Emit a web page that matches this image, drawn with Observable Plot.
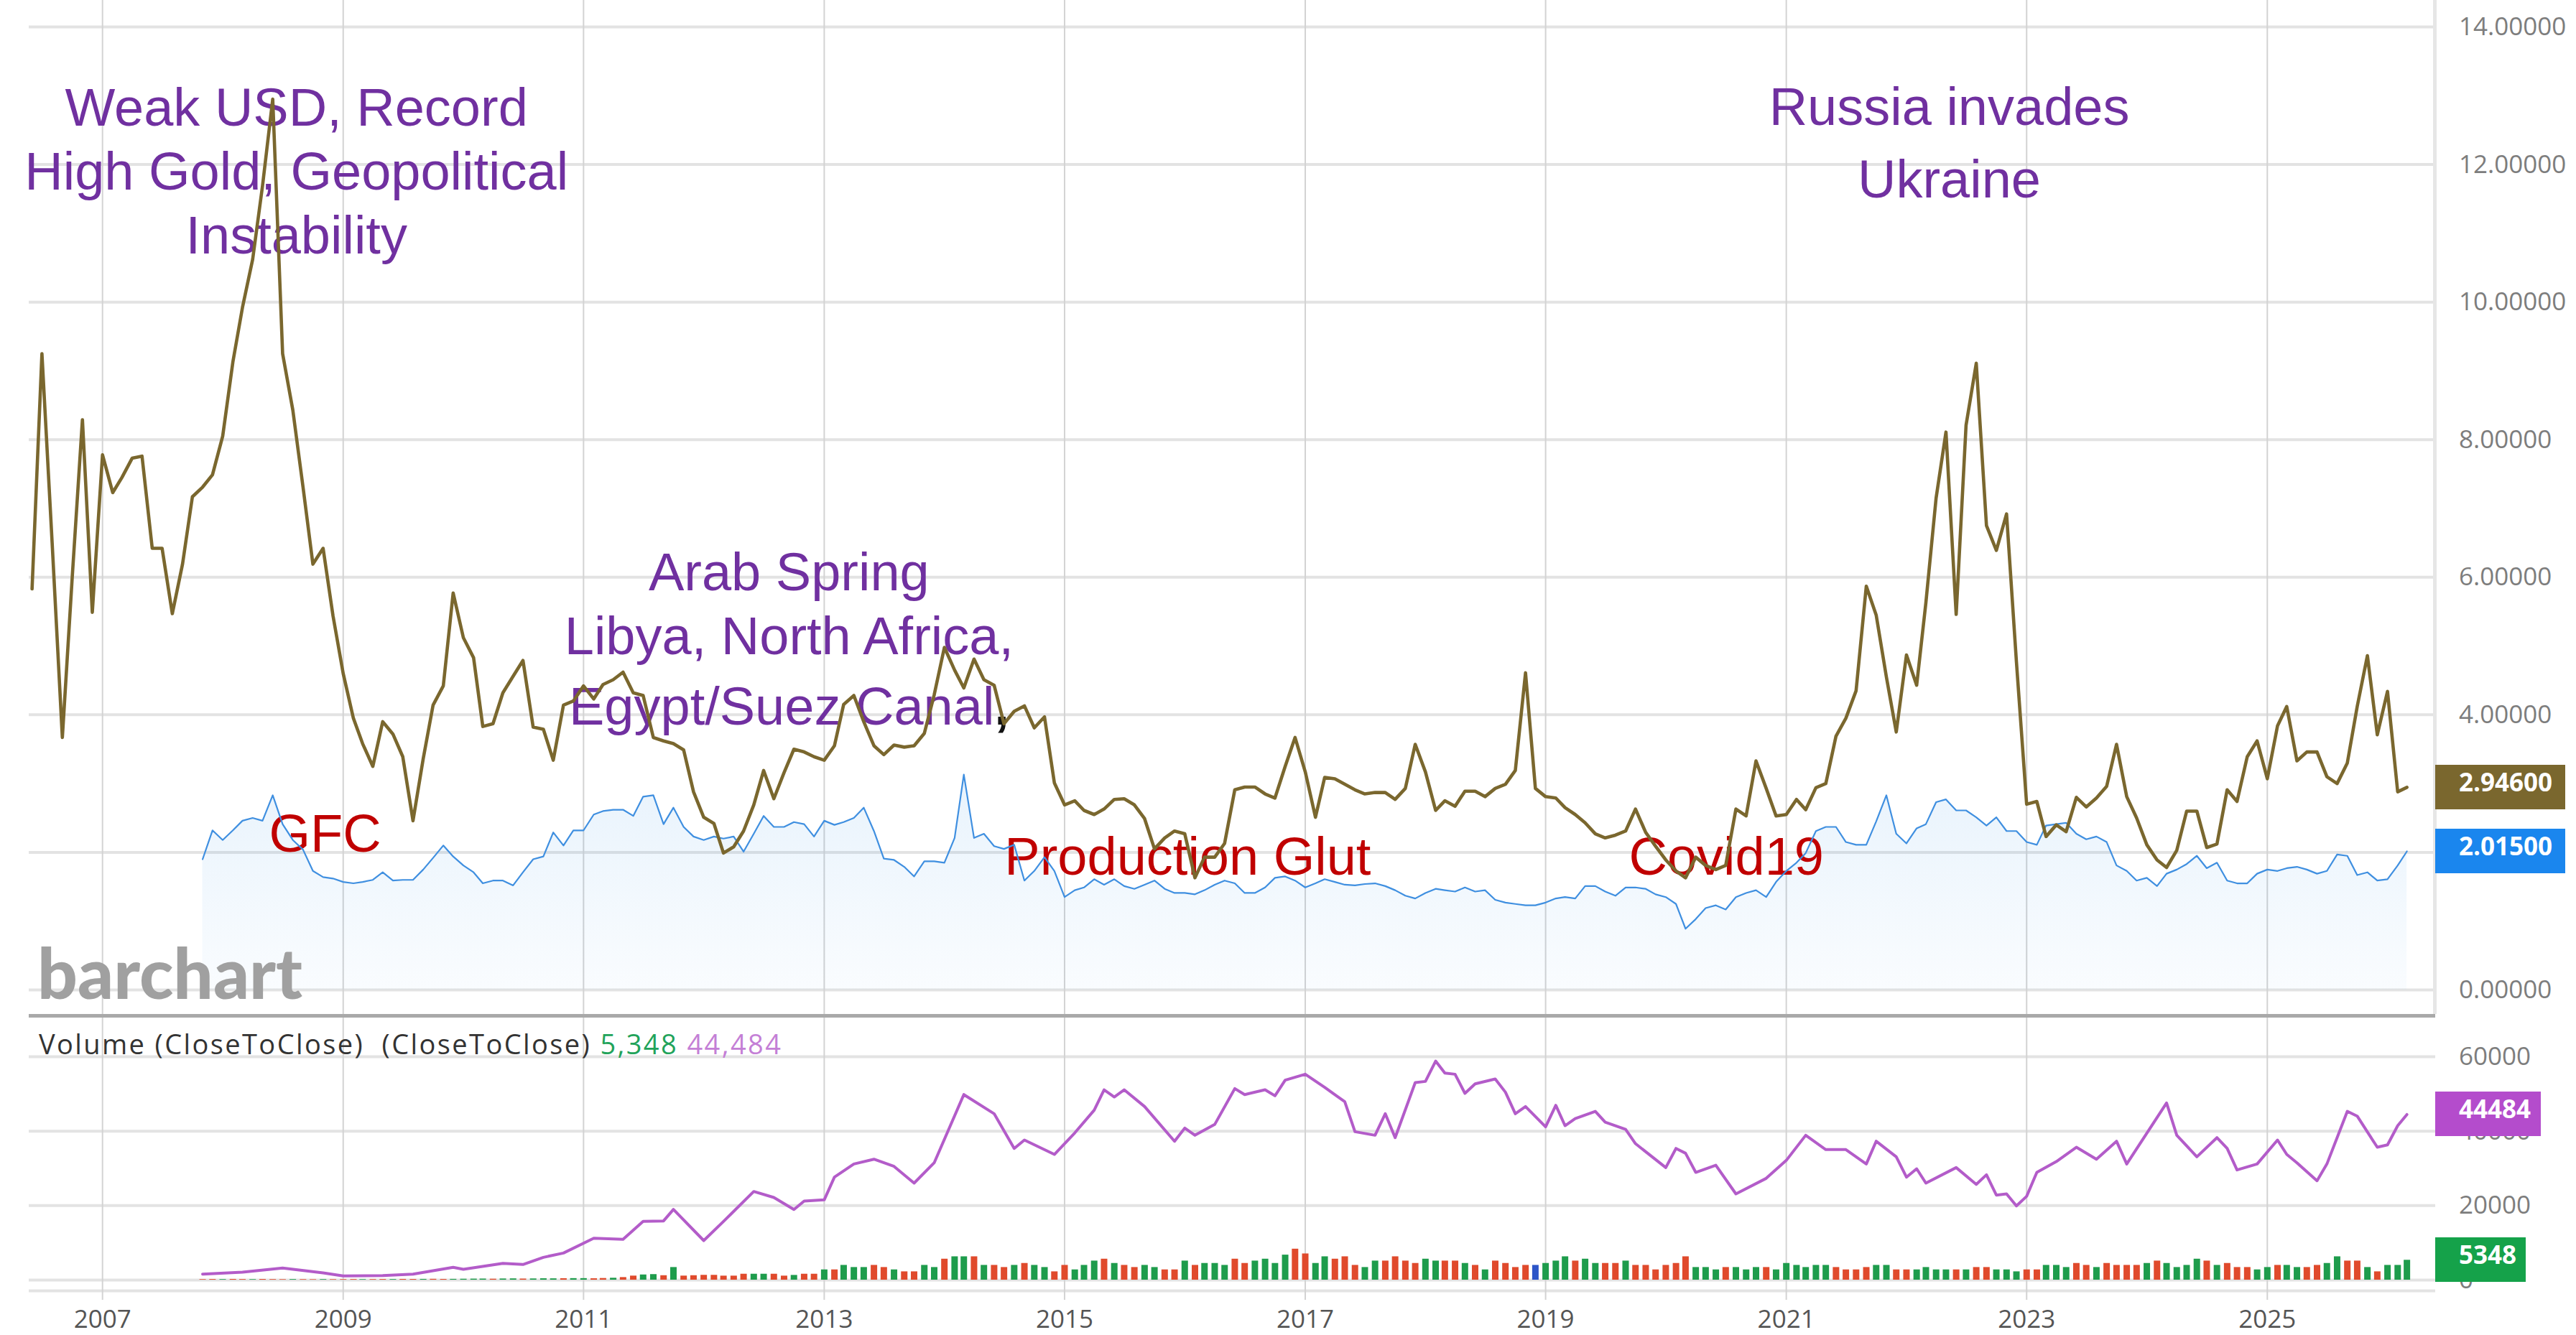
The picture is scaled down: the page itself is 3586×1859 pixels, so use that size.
<!DOCTYPE html>
<html><head><meta charset="utf-8">
<script src="https://cdn.jsdelivr.net/npm/d3@7"></script>
<script src="https://cdn.jsdelivr.net/npm/@observablehq/plot@0.6"></script>
<style>
body{margin:0;background:#fff;}
#wrap{position:relative;width:3586px;height:1859px;overflow:hidden;background:#fff;}
#wrap svg{position:absolute;left:0;}
.badge{position:absolute;left:3390px;height:62px;line-height:62px;color:#fff;font:700 35px "Open Sans",sans-serif;padding-left:33px;box-sizing:border-box;}
.ylab{position:absolute;left:3423px;height:50px;line-height:50px;color:#7d7d7d;font:35px "Open Sans",sans-serif;white-space:pre;}
</style></head>
<body><div id="wrap"></div>
<script>
// ---------- data ----------
const spreadStart = "2006-06";
const spread = [
  5.83, 9.25, 6.5, 3.67, 6.0, 8.29, 5.49,
  7.78, 7.23, 7.45, 7.73, 7.76, 6.42, 6.42, 5.47, 6.19, 7.17, 7.31, 7.49,
  8.05, 9.13, 9.92, 10.62, 11.69, 12.95, 9.25, 8.43, 7.31, 6.19, 6.42, 5.44,
  4.60, 3.95, 3.58, 3.25, 3.90, 3.72, 3.39, 2.46, 3.36, 4.14, 4.42, 5.77,
  5.12, 4.83, 3.83, 3.87, 4.32, 4.56, 4.79, 3.82, 3.79, 3.34, 4.14, 4.20,
  4.42, 4.23, 4.44, 4.51, 4.62, 4.32, 4.28, 3.67, 3.62, 3.58, 3.49, 2.88,
  2.51, 2.42, 1.99, 2.08, 2.31, 2.69, 3.19, 2.78, 3.16, 3.50, 3.46, 3.39,
  3.34, 3.55, 4.15, 4.28, 3.90, 3.55, 3.42, 3.56, 3.53, 3.55, 3.73, 4.29,
  4.98, 4.65, 4.39, 4.81, 4.51, 4.43, 3.87, 4.05, 4.13, 3.81, 3.97, 3.01,
  2.69, 2.75, 2.61, 2.55, 2.63, 2.77, 2.78, 2.69, 2.49, 2.05, 2.21, 2.31,
  2.27, 1.63, 1.93, 1.93, 2.13, 2.91, 2.95, 2.95, 2.85, 2.79, 3.25, 3.67,
  3.17, 2.51, 3.09, 3.07, 2.99, 2.91, 2.85, 2.87, 2.87, 2.77, 2.93, 3.57,
  3.17, 2.61, 2.75, 2.67, 2.89, 2.89, 2.81, 2.93, 2.99, 3.19, 4.61, 2.93,
  2.81, 2.79, 2.65, 2.55, 2.43, 2.27, 2.21, 2.25, 2.31, 2.63, 2.29, 2.09,
  1.89, 1.73, 1.63, 1.93, 1.81, 1.75, 1.81, 2.63, 2.53, 3.33, 2.93, 2.53,
  2.55, 2.77, 2.62, 2.94, 3.00, 3.69, 3.95, 4.35, 5.87, 5.45, 4.55, 3.75,
  4.87, 4.43, 5.63, 7.15, 8.11, 5.46, 8.21, 9.11, 6.75, 6.39, 6.92, 4.77,
  2.70, 2.74, 2.23, 2.40, 2.30, 2.80, 2.66, 2.79, 2.96, 3.57, 2.81, 2.50,
  2.11, 1.89, 1.78, 2.03, 2.60, 2.60, 2.07, 2.12, 2.91, 2.74, 3.39, 3.62,
  3.07, 3.84, 4.12, 3.33, 3.46, 3.46, 3.10, 3.00, 3.30, 4.12, 4.86, 3.71,
  4.34, 2.88, 2.946
];

const ratioStart = "2007-11";
const ratio = [
  1.90, 2.32,
  2.18, 2.32, 2.46, 2.50, 2.46, 2.83, 2.41, 2.18, 2.04, 1.73, 1.64, 1.62,
  1.57, 1.55, 1.57, 1.60, 1.71, 1.59, 1.60, 1.60, 1.75, 1.92, 2.10, 1.94,
  1.81, 1.71, 1.55, 1.59, 1.59, 1.52, 1.71, 1.90, 1.94, 2.29, 2.10, 2.32,
  2.32, 2.55, 2.60, 2.62, 2.62, 2.53, 2.81, 2.83, 2.41, 2.65, 2.37, 2.23,
  2.18, 2.23, 2.20, 2.23, 2.01, 2.27, 2.53, 2.37, 2.37, 2.44, 2.41, 2.23,
  2.46, 2.40, 2.44, 2.50, 2.65, 2.31, 1.91, 1.89, 1.79, 1.65, 1.87, 1.87,
  1.85, 2.21, 3.13, 2.21, 2.27, 2.09, 2.05, 2.11, 1.59, 1.73, 1.93, 1.73,
  1.35, 1.45, 1.49, 1.61, 1.53, 1.61, 1.51, 1.47, 1.53, 1.59, 1.47, 1.41,
  1.41, 1.39, 1.45, 1.53, 1.59, 1.55, 1.41, 1.41, 1.49, 1.63, 1.65, 1.59,
  1.49, 1.55, 1.61, 1.57, 1.53, 1.52, 1.54, 1.55, 1.51, 1.45, 1.37, 1.33,
  1.41, 1.47, 1.45, 1.43, 1.49, 1.43, 1.45, 1.31, 1.27, 1.25, 1.23, 1.23,
  1.27, 1.33, 1.35, 1.33, 1.51, 1.51, 1.43, 1.37, 1.49, 1.49, 1.47, 1.39,
  1.35, 1.25, 0.89, 1.03, 1.19, 1.23, 1.17, 1.35, 1.41, 1.45, 1.35, 1.57,
  1.73, 1.85, 1.99, 2.31, 2.37, 2.37, 2.15, 2.11, 2.11, 2.45, 2.83, 2.27,
  2.13, 2.35, 2.41, 2.73, 2.77, 2.61, 2.61, 2.51, 2.39, 2.51, 2.31, 2.31,
  2.15, 2.11, 2.39, 2.41, 2.43, 2.27, 2.19, 2.23, 2.15, 1.81, 1.73, 1.59,
  1.63, 1.51, 1.69, 1.75, 1.83, 1.95, 1.77, 1.85, 1.59, 1.55, 1.55, 1.69,
  1.75, 1.73, 1.77, 1.79, 1.75, 1.69, 1.73, 1.97, 1.95, 1.67, 1.71, 1.59,
  1.61, 1.81, 2.015
];

const volStart = "2007-11";
const volume = [
  150,180,160,200,170,150,190,160,140,170,150,130,160,140,150,170,150,160,180,170,200,190,210,230,200,220,
  250,280,300,260,320,350,300,330,380,360,400,420,
  420,380,450,520,700,1100,1400,1500,1200,3400,1100,1200,1300,1300,
  1090,1090,1600,1600,1600,1600,1090,1280,1600,1600,
  2760,2760,3970,3400,3400,3970,3400,2760,2240,2240,3970,3400,
  5640,6280,6280,6280,3970,3970,3400,3970,4490,3970,3400,2240,
  3970,2760,3970,5130,5640,4490,3970,3400,3970,3400,2760,2760,
  5130,3970,4490,4490,3970,5640,4490,5130,5640,4490,6730,8330,
  7050,4490,6280,5640,6280,3970,3400,5130,5130,6280,5130,4490,
  5640,5130,5130,5130,4490,3970,2760,5130,4490,3400,3970,3970,
  4490,5130,6280,5130,5640,4490,4490,4490,5130,3970,3970,2760,
  3970,4490,6280,3400,3400,2760,3400,3400,2760,3400,3400,2760,
  4490,3970,3400,3970,3970,3400,2760,2760,3400,3970,3970,2760,
  2760,2760,3400,2760,2760,2760,2760,3400,3400,2760,2760,2240,
  2760,2760,3970,3970,3400,4490,3970,3400,4490,3970,3970,3970,
  4490,5130,4490,3400,3970,5640,5130,3970,4490,3400,3400,2760,
  3400,3970,3970,3400,3400,3970,4490,6280,5130,5130,3400,2240,
  3970,3970,5348
];
const volDirection = [
  "rrgrrgrrrgrrgrrrgrrgrrgrrg", "gggrggrgggrg", "grrgrrggrgrrrr", "rrrggrrgrr",
  "grgggrrgrrgg", "rggrgrrgrggr", "rgggrgrrggrr", "grgggrrggggr",
  "rggrrrggrrrr", "ggrrgrgrrrrb", "gggrggrrgrrr", "rrrgggrgggrg",
  "gggggrrrrggr", "rggggrgrrggg", "rrgggrrgrrrr", "grggggrgrrrg",
  "grggrrggrrgr", "ggg"
].join("");

// 12-month volume average: months counted from Jan 2007
const maMonth = [10,14,18,22,24,28,31,35,36,40,42,44,46,49,52,54,56,57,60,62,65,67,69,70,72,73,75,77,79,81,83,86,89,91,92,95,97,99,100,101,102,104,107,108,109,111,113,114,116,117,118,120,122,124,125,127,128,129,131,132,133,134,135,136,137,139,140,141,142,144,145,146,147,149,150,152,153,156,157,158,159,161,163,166,168,170,172,174,176,177,179,180,181,182,185,187,188,189,190,191,192,193,195,197,199,201,202,206,207,209,211,212,213,215,217,218,219,221,222,224,225,227,228,229,230];
const maValue = [1608,2122,3215,1929,1093,1222,1608,3408,2894,4501,4180,6109,7266,11253,10931,15754,15882,18969,10610,15754,23791,22184,18969,21219,21541,27649,31186,32472,30543,26042,31507,49833,44689,35365,37616,33758,39545,45653,51119,49190,51119,46618,37294,40831,38902,41795,51440,49833,51119,49511,53691,55298,51762,47904,39866,38902,44689,38259,53048,53369,58835,55620,55298,50154,52726,54012,50476,44689,46618,41152,46939,41474,43403,45332,42438,40509,36651,30221,35365,34079,28935,30864,23148,27328,32150,38902,35044,35044,31186,37294,33115,27649,29900,26042,30221,25720,28292,22827,23148,19933,22505,28935,31829,35687,32472,37294,31186,47582,38902,33115,38259,35365,29578,31186,37616,33758,31507,26685,31186,45332,44046,35687,36330,41474,44484];

const priceTicks = [0, 2, 4, 6, 8, 10, 12, 14];
const volTicks = [0, 20000, 40000, 60000];
const yearTicks = [2007, 2009, 2011, 2013, 2015, 2017, 2019, 2021, 2023, 2025];

const noteText = ["Weak USD, Record\nHigh Gold, Geopolitical\nInstability", "Arab Spring\nLibya, North Africa,", "Russia invades\nUkraine", "GFC", "Production Glut", "Covid19"];
const noteDate = ["2008-08-12", "2012-09-16", "2022-05-11", "2008-11-07", "2016-01-10", "2020-07-03"];
const noteValue = [11.93, 5.646, 12.39, 2.252, 1.918, 1.928];
const noteColor = ["#7030a0", "#7030a0", "#7030a0", "#c00000", "#c00000", "#c00000"];
const noteLineHeight = [1.2, 1.216, 1.365, 1, 1, 1];
const suezText = "Egypt/Suez Canal";
const suezDate = "2014-06-02";
const suezValue = 4.11;

// ---------- build rows ----------
const monthRows = (start, vals) => {
  const [y, m] = start.split("-").map(Number);
  return vals.map((v, i) => ({date: new Date(Date.UTC(y, m - 1 + i, 1)), v}));
};
const spreadData = monthRows(spreadStart, spread);
const ratioData = monthRows(ratioStart, ratio);
const barColors = {g: "#1e9c4c", r: "#e04a2c", b: "#2c55c8"};
const volData = monthRows(volStart, volume).map((d, i) => ({...d, color: barColors[volDirection[i]]}));
const maData = maMonth.map((m, i) => ({date: new Date(Date.UTC(2007, m, 1)), v: maValue[i]}));
const notes = noteText.map((t, i) => ({text: t, date: new Date(noteDate[i] + "T00:00:00Z"), value: noteValue[i], color: noteColor[i], lh: noteLineHeight[i]}));
const yearDates = yearTicks.map(y => new Date(Date.UTC(y, 0, 1)));
const xDomain = [new Date(Date.UTC(2006, 4, 23)), new Date(Date.UTC(2026, 4, 27))];

const W = 3586, H1 = 1418, H2 = 441;
const annFont = "Liberation Sans, Arial, sans-serif";
const axisFont = "Open Sans, sans-serif";

const noteMarks = notes.map(n => Plot.text([n], {
  x: "date", y: "value", text: "text", fill: n.color, fontSize: 74,
  fontFamily: annFont, lineHeight: n.lh
}));

const topPlot = Plot.plot({
  width: W, height: H1,
  marginLeft: 40, marginRight: 196, marginTop: 37, marginBottom: 40,
  x: {type: "utc", domain: xDomain, axis: null},
  y: {domain: [0, 14], axis: null},
  style: {background: "transparent", overflow: "visible"},
  marks: [
    Plot.ruleY(priceTicks, {stroke: "#e3e3e3", strokeWidth: 4}),
    Plot.ruleX(yearDates, {stroke: "#d3d3d3", strokeWidth: 2, insetTop: -37, insetBottom: -40}),
    Plot.areaY(ratioData, {x: "date", y: "v", fill: "url(#ratioFade)"}),
    ...noteMarks,
    Plot.text([{date: new Date(suezDate + "T00:00:00Z"), value: suezValue}], {
      x: "date", y: "value", text: () => suezText, textAnchor: "end",
      fill: "#7030a0", fontSize: 74, fontFamily: annFont
    }),
    Plot.text([{date: new Date(suezDate + "T00:00:00Z"), value: suezValue}], {
      x: "date", y: "value", text: () => ",", textAnchor: "start",
      fill: "#111", fontSize: 74, fontFamily: annFont, fontWeight: "bold"
    }),
    Plot.lineY(ratioData, {x: "date", y: "v", stroke: "#3f8fe0", strokeWidth: 2.2}),
    Plot.lineY(spreadData, {x: "date", y: "v", stroke: "#7a672e", strokeWidth: 4.6})
  ]
});

const defs = d3.select(topPlot).insert("defs", ":first-child");
const grad = defs.append("linearGradient").attr("id", "ratioFade")
  .attr("x1", 0).attr("x2", 0).attr("y1", 0).attr("y2", 1);
grad.append("stop").attr("offset", "0%").attr("stop-color", "#1e88e5").attr("stop-opacity", 0.10);
grad.append("stop").attr("offset", "100%").attr("stop-color", "#1e88e5").attr("stop-opacity", 0.025);

const botPlot = Plot.plot({
  width: W, height: H2,
  marginLeft: 40, marginRight: 196, marginTop: 53, marginBottom: 77,
  x: {type: "utc", domain: xDomain},
  y: {domain: [0, 60000], axis: null},
  color: {type: "identity"},
  style: {background: "transparent", overflow: "visible"},
  marks: [
    Plot.ruleY(volTicks, {stroke: "#e3e3e3", strokeWidth: 4}),
    Plot.ruleY([0], {stroke: "#e3e3e3", strokeWidth: 4, dy: 15}),
    Plot.ruleX(yearDates, {stroke: "#d3d3d3", strokeWidth: 2, insetTop: -53, insetBottom: -28}),
    Plot.ruleX(volData, {x: "date", y1: 0, y2: "v", stroke: "color", strokeWidth: 9}),
    Plot.lineY(maData, {x: "date", y: "v", stroke: "#b35cc9", strokeWidth: 4}),
    Plot.axisX({ticks: yearDates, tickFormat: d3.utcFormat("%Y"), tickSize: 0, tickPadding: 42,
      fontSize: 35, fontFamily: axisFont, color: "#555", label: null})
  ]
});

const wrap = document.getElementById("wrap");
topPlot.style.top = "0px";
botPlot.style.top = H1 + "px";
wrap.appendChild(topPlot);
wrap.appendChild(botPlot);

// panel separator and right edge
const sep = document.createElement("div");
sep.style.cssText = "position:absolute;left:40px;top:1412px;width:3350px;height:5px;background:#a9a9a9;";
wrap.appendChild(sep);
const edge = document.createElement("div");
edge.style.cssText = "position:absolute;left:3387px;top:0;width:5px;height:1412px;background:#e6e6e6;";
wrap.appendChild(edge);

// right-side tick labels, placed with the plots' y scales
const yTop = topPlot.scale("y"), yBot = botPlot.scale("y");
function ylab(top, text) {
  const l = document.createElement("div");
  l.className = "ylab";
  l.textContent = text;
  l.style.top = (top - 25) + "px";
  wrap.appendChild(l);
}
priceTicks.forEach(t => ylab(yTop.apply(t), t.toFixed(5)));
volTicks.forEach(t => ylab(H1 + yBot.apply(t), String(t)));

// watermark
const wm = document.createElement("div");
wm.textContent = "barchart";
wm.style.cssText = "position:absolute;left:52px;top:1304px;font:900 98px Lato,sans-serif;line-height:98px;color:#a0a0a0;";
wrap.appendChild(wm);

// volume legend line
const fmt = d3.format(",");
const lastVol = volume[volume.length - 1];
const lastMA = maValue[maValue.length - 1];
const leg = document.createElement("div");
leg.style.cssText = "position:absolute;left:54px;top:1428px;font:38px 'Open Sans',sans-serif;letter-spacing:2.4px;line-height:50px;color:#333;white-space:pre;";
leg.innerHTML = "Volume (CloseToClose)  (CloseToClose) <span style='color:#22a35a'>" + fmt(lastVol) +
  "</span> <span style='color:#c47fd6'>" + fmt(lastMA) + "</span>";
wrap.appendChild(leg);

// last-value badges
function badge(top, text, bg, w) {
  const b = document.createElement("div");
  b.className = "badge";
  b.textContent = text;
  b.style.top = (top - 31) + "px";
  b.style.width = w + "px";
  b.style.background = bg;
  wrap.appendChild(b);
}
badge(yTop.apply(spread[spread.length - 1]), spread[spread.length - 1].toFixed(5), "#7a672e", 181);
badge(yTop.apply(ratio[ratio.length - 1]), ratio[ratio.length - 1].toFixed(5), "#1a86ee", 181);
badge(H1 + yBot.apply(lastMA), String(lastMA), "#b44ccc", 147);
badge(H1 + yBot.apply(lastVol), String(lastVol), "#15a24a", 126);
</script></body></html>
